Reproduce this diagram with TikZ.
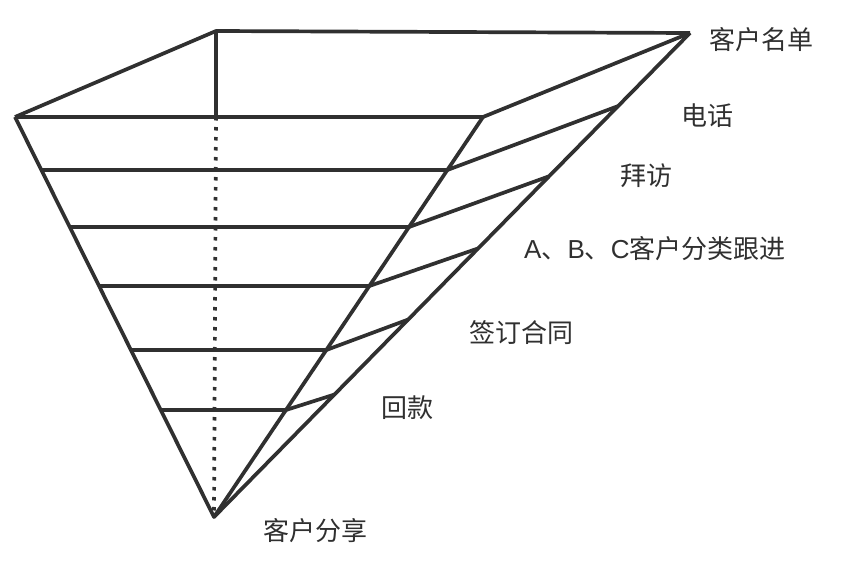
\documentclass[tikz,border=0pt]{standalone}
\usepackage{fontspec}
\newfontfamily\cjk{Noto Sans CJK SC}
\newfontfamily\lat{Liberation Sans}
\usepackage{tikz}
\usetikzlibrary{calc}
\definecolor{ink}{HTML}{303030}

\begin{document}
\begin{tikzpicture}[x=1pt, y=-1pt, line join=round,
  edge/.style={draw=ink, line width=3.7pt},
  hidden/.style={draw=ink, line width=3.7pt, dash pattern=on 3.5pt off 6.5pt},
  lbl/.style={anchor=west, text=ink, inner sep=0pt,
              font=\cjk\fontsize{26}{30}\selectfont}]
  \useasboundingbox (0,0) rectangle (868,570);
  \coordinate (tl) at (15,117);
  \coordinate (tb) at (216,31);
  \coordinate (tr) at (690,33);
  \coordinate (tf) at (483,117);
  \coordinate (tc) at (216,117);
  \coordinate (apex) at (214,517);
  \draw[edge] (tl) -- (tb) -- (tr);
  \draw[edge] (tb) -- (tc);
  \draw[hidden] (tc) -- (apex);
  \draw[edge] (tl) -- (tf) -- (tr);
  \draw[edge] (tl) -- (apex) -- (tf);
  \draw[edge] (tr) -- (apex);
  \foreach \i/\f/\b in {1/0.1325/0.151, 2/0.275/0.296, 3/0.4225/0.445,
                        4/0.5825/0.592, 5/0.7325/0.747} {
    \coordinate (l\i) at ($(tl)!\f!(apex)$);
    \coordinate (f\i) at ($(tf)!\f!(apex)$);
    \coordinate (b\i) at ($(tr)!\b!(apex)$);
    \draw[edge] (l\i) -- (f\i) -- (b\i);
  }
  \node[lbl] (list)   at (709,40)  {客户名单};
  \node[lbl] (call)   at (681,116) {电话};
  \node[lbl] (visit)  at (620,176) {拜访};
  \node[lbl] (follow) at (524,249) {{\lat A}、{\lat B}、{\lat C}客户分类跟进};
  \node[lbl] (sign)   at (469,333) {签订合同};
  \node[lbl] (pay)    at (381,408) {回款};
  \node[lbl] (share)  at (263,531) {客户分享};
\end{tikzpicture}
\end{document}
